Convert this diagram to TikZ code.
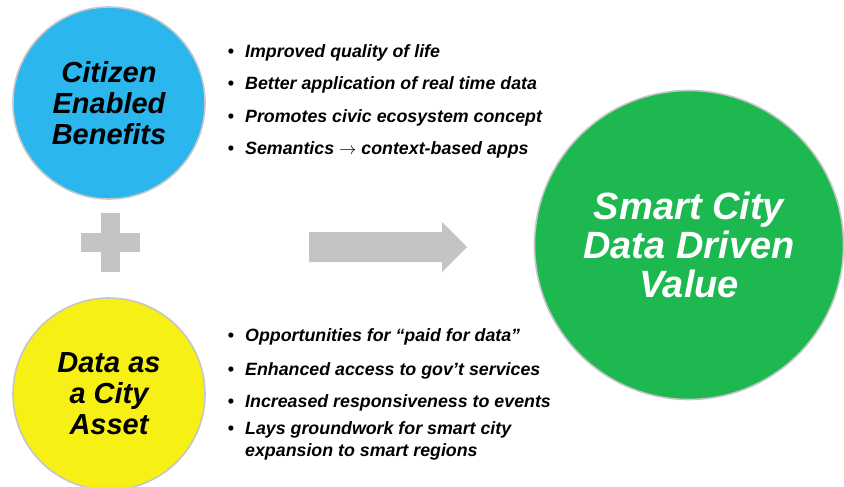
\documentclass[tikz,border=0pt]{standalone}
\usepackage{fontspec}
\setmainfont{Liberation Sans}
\definecolor{cblue}{RGB}{44,182,238}
\definecolor{cyellow}{RGB}{246,240,20}
\definecolor{cgreen}{RGB}{30,184,80}
\definecolor{cgray}{RGB}{196,196,196}
\begin{document}
\begin{tikzpicture}[x=1pt,y=-1pt,
  disc/.style={circle,draw=gray!45,line width=1.6pt,inner sep=0pt,align=center,
    font=\fontsize{29}{31}\selectfont\bfseries\itshape},
  bul/.style={anchor=west,inner sep=0pt,font=\fontsize{17.8}{21}\selectfont\bfseries\itshape},
  dot/.style={anchor=center,inner sep=0pt,font=\fontsize{18}{20}\selectfont\bfseries}]
\useasboundingbox (0,0) rectangle (844,487);
% circles
\node[disc,fill=cblue,minimum size=192pt] (cit) at (109,103) {Citizen\\Enabled\\Benefits};
\node[disc,fill=cyellow,minimum size=192pt] (dat) at (109,394) {Data as\\a City\\Asset};
\node[disc,fill=cgreen,minimum size=309pt,text=white,
  font=\fontsize{38}{39}\selectfont\bfseries\itshape] (val) at (689,245) {Smart City\\Data Driven\\Value};
% plus
\fill[cgray] (101,213) rectangle (120,272);
\fill[cgray] (81,233) rectangle (140,252);
% arrow
\fill[cgray] (309,232) -- (442,232) -- (442,222) -- (467,247) -- (442,272)
  -- (442,262) -- (309,262) -- cycle;
% top bullets
\foreach \y/\t [count=\i] in {53/Improved quality of life,
   85/Better application of real time data,
   118/Promotes civic ecosystem concept,
   150/Semantics $\rightarrow$ context-based apps}{
  \node[dot] (td\i) at (231,\y) {•};
  \node[bul] (tb\i) at (245,\y) {\t};
}
% bottom bullets
\foreach \y/\t [count=\i] in {337/Opportunities for “paid for data”,
   371/Enhanced access to gov’t services,
   403/Increased responsiveness to events,
   430/Lays groundwork for smart city}{
  \node[dot] (bd\i) at (231,\y) {•};
  \node[bul] (bb\i) at (245,\y) {\t};
}
\node[bul] (bb5) at (245,452) {expansion to smart regions};
\end{tikzpicture}
\end{document}
